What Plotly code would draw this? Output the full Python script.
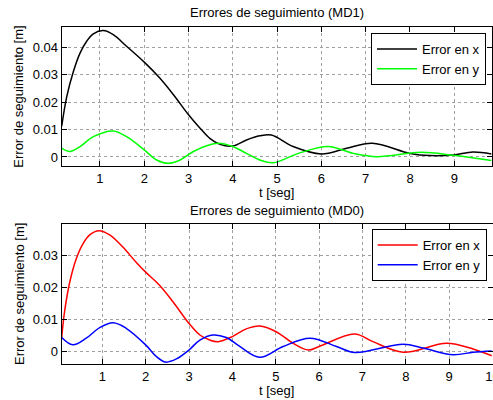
import plotly.graph_objects as go

# --- MD1 tracking errors ---
t_md1_x = [0.136, 0.25, 0.40, 0.55, 0.70, 0.85, 1.075, 1.30, 1.60, 2.00, 2.35,
           2.66, 3.00, 3.26, 3.48, 3.71, 4.00, 4.31, 4.61, 4.87, 5.36, 6.00,
           6.57, 7.15, 8.00, 8.45, 8.97, 9.42, 9.84]
err_md1_x = [0.0112, 0.0220, 0.0312, 0.0379, 0.0422, 0.0449, 0.0461, 0.0446,
             0.0404, 0.0346, 0.0288, 0.0227, 0.0154, 0.0105, 0.0068, 0.0046,
             0.0040, 0.0062, 0.0077, 0.0080, 0.0038, 0.0011, 0.0032, 0.0050,
             0.0013, 0.0005, 0.0007, 0.0018, 0.0011]

t_md1_y = [0.136, 0.32, 0.55, 0.85, 1.30, 1.60, 2.00, 2.28, 2.54, 2.81, 3.11,
           3.41, 3.67, 4.00, 4.31, 4.61, 4.91, 5.48, 6.15, 6.72, 7.25, 8.26,
           8.97, 9.84]
err_md1_y = [0.0032, 0.0020, 0.0038, 0.0074, 0.0095, 0.0074, 0.0026, -0.0011,
             -0.0023, -0.0011, 0.0020, 0.0041, 0.0050, 0.0038, 0.0013, -0.0011,
             -0.0021, 0.0013, 0.0038, 0.0013, 0.0001, 0.0017, 0.0006, -0.0013]

# --- MD0 tracking errors ---
t_md0_x = [0.064, 0.13, 0.25, 0.40, 0.55, 0.71, 0.92, 1.17, 1.48, 1.78, 2.00,
           2.32, 2.63, 3.00, 3.25, 3.48, 3.67, 4.00, 4.32, 4.63, 5.00, 5.40,
           5.75, 6.00, 6.82, 7.24, 7.94, 8.94, 9.55, 9.98]
err_md0_x = [0.0044, 0.0125, 0.0218, 0.0291, 0.0337, 0.0366, 0.0379, 0.0366,
             0.0327, 0.0280, 0.0249, 0.0208, 0.0156, 0.0088, 0.0052, 0.0036,
             0.0031, 0.0047, 0.0071, 0.0080, 0.0063, 0.0026, 0.0005, 0.0016,
             0.0055, 0.0031, -0.0002, 0.0026, 0.0008, -0.0013]

t_md0_y = [0.064, 0.32, 0.63, 0.94, 1.25, 1.55, 2.00, 2.25, 2.46, 2.71, 3.00,
           3.25, 3.55, 3.86, 4.17, 4.63, 5.17, 5.79, 6.40, 6.82, 7.94, 8.40,
           9.09, 9.55, 9.98]
err_md0_y = [0.0044, 0.0021, 0.0042, 0.0075, 0.0090, 0.0073, 0.0021, -0.0016,
             -0.0033, -0.0023, 0.0005, 0.0036, 0.0052, 0.0044, 0.0016, -0.0018,
             0.0016, 0.0042, 0.0016, -0.0003, 0.0023, 0.0011, -0.0010, -0.0002,
             0.0002]

xticks_md1 = [1, 2, 3, 4, 5, 6, 7, 8, 9]
xticks_md0 = [1, 2, 3, 4, 5, 6, 7, 8, 9, 10]
yticks_md1 = [0, 0.01, 0.02, 0.03, 0.04]
yticks_md0 = [0, 0.01, 0.02, 0.03]
ytext_md1 = ["0", "0.01", "0.02", "0.03", "0.04"]
ytext_md0 = ["0", "0.01", "0.02", "0.03"]

FONT = "Liberation Sans, Arial, sans-serif"
W, H = 493, 400

fig = go.Figure()


def add_line(x, y, color, name, xa, ya, legend):
    fig.add_trace(go.Scatter(
        x=x, y=y, mode="lines", name=name,
        line=dict(color=color, width=1.5, shape="spline", smoothing=1.0),
        xaxis=xa, yaxis=ya, legend=legend,
    ))


add_line(t_md1_x, err_md1_x, "#000000", "Error en x", "x", "y", "legend")
add_line(t_md1_y, err_md1_y, "#00ff00", "Error en y", "x", "y", "legend")
add_line(t_md0_x, err_md0_x, "#ff0000", "Error en x", "x2", "y2", "legend2")
add_line(t_md0_y, err_md0_y, "#0000ff", "Error en y", "x2", "y2", "legend2")

axis_common = dict(
    showline=True, linecolor="black", linewidth=1, mirror="ticks",
    ticks="inside", ticklen=5, tickcolor="black",
    showgrid=True, gridcolor="#a0a0a0", griddash="dot", gridwidth=1,
    zeroline=False, automargin=False,
    tickfont=dict(family=FONT, size=13, color="black"),
)


# pixel box of each panel -> paper domain
def dom_x(l, r):
    return [l / W, min(r / W, 1.0)]


def dom_y(top, bot):
    return [1 - bot / H, 1 - top / H]


legend_common = dict(
    xanchor="right", yanchor="top",
    bgcolor="white", bordercolor="black", borderwidth=1,
    font=dict(family=FONT, size=13, color="black"),
    itemwidth=40, tracegroupgap=0,
)

fig.update_layout(
    width=W, height=H,
    margin=dict(l=0, r=0, t=0, b=0, autoexpand=False),
    paper_bgcolor="white", plot_bgcolor="white",
    showlegend=True,
    xaxis=dict(axis_common, domain=dom_x(61.7, 491.7), range=[0.136, 9.845],
               tickvals=xticks_md1, anchor="y"),
    yaxis=dict(axis_common, domain=dom_y(27.3, 166), range=[-0.0033, 0.0473],
               tickvals=yticks_md1, ticktext=ytext_md1, anchor="x"),
    # the "10" label sits on the right edge and is allowed to run off the page
    xaxis2=dict(axis_common, domain=dom_x(61.7, 493.0), range=[0.064, 10.01],
                tickvals=xticks_md0, anchor="y2", ticklabeloverflow="allow"),
    yaxis2=dict(axis_common, domain=dom_y(224.3, 364), range=[-0.0039, 0.0399],
                tickvals=yticks_md0, ticktext=ytext_md0, anchor="x2"),
    legend=dict(legend_common, x=486 / W, y=1 - 33 / H),
    legend2=dict(legend_common, x=486.7 / W, y=1 - 229 / H),
)

cx = ((61.7 + 491.7) / 2) / W
ann_font = dict(family=FONT, size=13, color="black")
annotations = [
    dict(text="Errores de seguimiento (MD1)", x=cx, y=1 - 12 / H),
    dict(text="Errores de seguimiento (MD0)", x=cx, y=1 - 210 / H),
    dict(text="t [seg]", x=cx, y=1 - 193 / H),
    dict(text="t [seg]", x=cx, y=1 - 390 / H),
    dict(text="Error de seguimiento [m]", x=19 / W, y=1 - 96.7 / H, textangle=-90),
    dict(text="Error de seguimiento [m]", x=19 / W, y=1 - 294 / H, textangle=-90),
]
for a in annotations:
    fig.add_annotation(xref="paper", yref="paper", showarrow=False,
                       xanchor="center", yanchor="middle", font=ann_font, **a)

fig.write_html("out.html")
